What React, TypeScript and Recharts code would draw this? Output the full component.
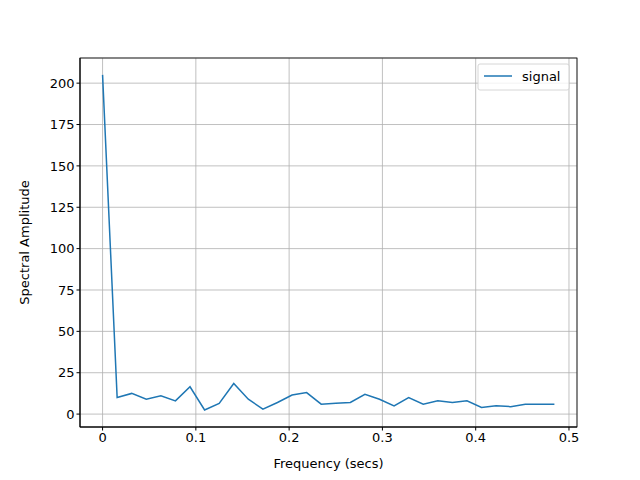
import React from 'react';
import { LineChart, Line, XAxis, YAxis, CartesianGrid } from 'recharts';

const freqs: number[] = Array.from({ length: 32 }, (_, k) => k / 64);
const amps: number[] = [205, 10, 12.5, 9, 11, 8, 16.5, 2.5, 6.5, 18.5, 9, 3, 7, 11.5, 13, 6, 6.5, 7, 12, 9, 5, 10, 6, 8, 7, 8, 4, 5, 4.5, 6, 6, 6];
const xTicks = [0, 0.1, 0.2, 0.3, 0.4, 0.5];
const yTicks = [0, 25, 50, 75, 100, 125, 150, 175, 200];
const data = freqs.map((f, i) => ({ f, a: amps[i] }));

const L = 80, T = 58, R = 577, B = 427;

export default function App() {
  return (
    <div style={{ position: 'absolute', left: 0, top: 0, width: 640, height: 480, background: '#fff', fontFamily: 'DejaVu Sans' }}>
      <LineChart width={640} height={480} data={data} margin={{ top: T, right: 640 - R, bottom: 0, left: 0 }}>
        <CartesianGrid stroke="#b0b0b0" strokeWidth={0.8} />
        <XAxis dataKey="f" type="number" domain={[-0.0242, 0.5086]} ticks={xTicks} height={480 - B}
          tickFormatter={(v: number) => String(v)} stroke="#000" tick={{ fill: '#000', fontSize: 13 }} tickSize={3.5}
          label={{ value: 'Frequency (secs)', position: 'insideBottom', offset: 12, fill: '#000', fontSize: 13 }} />
        <YAxis type="number" domain={[-7.8, 215.2]} ticks={yTicks} width={L} stroke="#000"
          tick={{ fill: '#000', fontSize: 13 }} tickSize={3.5}
          label={{ value: 'Spectral Amplitude', angle: -90, position: 'insideLeft', offset: 24, fill: '#000', fontSize: 13, style: { textAnchor: 'middle' } }} />
        <Line dataKey="a" stroke="#1f77b4" strokeWidth={1.5} dot={false} isAnimationActive={false} />
      </LineChart>
      <svg width={640} height={480} style={{ position: 'absolute', left: 0, top: 0, pointerEvents: 'none' }}>
        <rect x={L} y={T} width={R - L} height={B - T} fill="none" stroke="#000" strokeWidth={0.8} />
        <rect x={478} y={64} width={91} height={26} rx={2} fill="#fff" fillOpacity={0.8} stroke="#ccc" strokeWidth={0.8} />
        <line x1={484} x2={512} y1={76} y2={76} stroke="#1f77b4" strokeWidth={1.5} />
        <text x={522} y={81} fontSize={13} fill="#000" fontFamily="DejaVu Sans">signal</text>
      </svg>
    </div>
  );
}
